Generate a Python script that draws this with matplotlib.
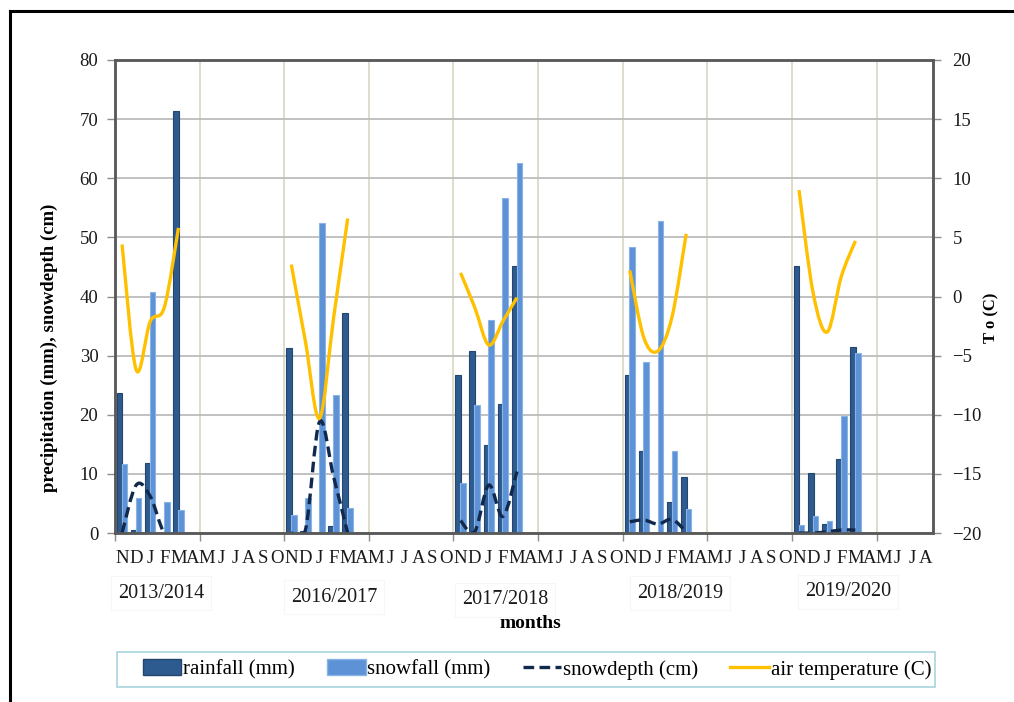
import numpy as np
import matplotlib
matplotlib.use("Agg")
import matplotlib.pyplot as plt
from matplotlib.path import Path
from matplotlib.patches import PathPatch, Rectangle
from matplotlib.lines import Line2D

# ---------------- data ----------------
month_labels = (["N", "D", "J", "F", "M", "A", "M", "J", "J", "A", "S", "O"] * 4
                + ["N", "D", "J", "F", "M", "A", "M", "J", "J", "A"])
seasons = ["2013/2014", "2016/2017", "2017/2018", "2018/2019", "2019/2020"]
season_months = ["N", "D", "J", "F", "M"]
months_per_season = 12

# values per season for N, D, J, F, M
rainfall = [
    [23.6, 0.5, 11.9, 0.0, 71.3],
    [31.3, 0.3, 0.0, 1.1, 37.2],
    [26.7, 30.8, 14.8, 21.9, 45.2],
    [26.7, 13.9, 0.0, 5.2, 9.4],
    [45.2, 10.1, 1.6, 12.6, 31.4],
]
snowfall = [
    [11.6, 5.9, 40.8, 5.2, 3.9],
    [3.0, 6.0, 52.4, 23.3, 4.2],
    [8.4, 21.6, 36.0, 56.6, 62.6],
    [48.3, 29.0, 52.8, 13.8, 4.0],
    [1.4, 2.9, 2.1, 19.8, 30.5],
]
snowdepth = [
    [0.0, 8.1, 6.2, 0.0, 0.0],
    [0.0, 0.5, 18.8, 9.5, 0.0],
    [2.1, 0.2, 8.1, 2.8, 10.4],
    [1.9, 2.2, 1.5, 2.3, 0.2],
    [0.0, 0.0, 0.2, 0.5, 0.5],
]
air_temperature = [
    [4.4, -6.2, -2.1, -0.9, 5.8],
    [2.7, -3.8, -10.3, -1.8, 6.6],
    [2.0, -0.9, -4.1, -2.1, -0.1],
    [2.2, -3.5, -4.6, -1.7, 5.3],
    [9.0, 0.3, -3.0, 1.7, 4.7],
]

# ---------------- style ----------------
SERIF = ["Liberation Serif", "DejaVu Serif"]
plt.rcParams["font.family"] = SERIF
DARK = "#2e5b8f"
DARK_EDGE = "#23466f"
LIGHT = "#5d92d6"
LIGHT_EDGE = "#8ab3e6"
ORANGE = "#FFC000"
NAVY = "#10294d"
SPINE = "#5a5a5a"
TXT = "#1a1a1a"


def smooth_path(xs, ys):
    """Excel-like smoothed line as cubic Bezier path through the data points."""
    pts = np.column_stack([xs, ys]).astype(float)
    n = len(pts)
    verts = [pts[0]]
    codes = [Path.MOVETO]
    for i in range(n - 1):
        p0 = pts[i - 1] if i > 0 else pts[i]
        p1 = pts[i]
        p2 = pts[i + 1]
        p3 = pts[i + 2] if i + 2 < n else pts[i + 1]
        c1 = p1 + (p2 - p0) / 6.0
        c2 = p2 - (p3 - p1) / 6.0
        verts += [c1, c2, p2]
        codes += [Path.CURVE4] * 3
    return Path(np.array(verts), codes)


W, H = 1014, 702
fig = plt.figure(figsize=(W / 100, H / 100), dpi=100)
ax = fig.add_axes([115 / W, 1 - 533 / H, (933 - 115) / W, (533 - 60) / H])
ax2 = ax.twinx()

n_cat = len(month_labels)
ax.set_xlim(-0.5, n_cat - 0.5)
ax.set_ylim(0, 80)
ax2.set_ylim(-20, 20)

bw = 0.4
for s in range(len(seasons)):
    xs = np.arange(len(season_months)) + s * months_per_season
    ax.bar(xs - 0.17, rainfall[s], width=bw, color=DARK, edgecolor=DARK_EDGE,
           linewidth=0.8, zorder=2)
    ax.bar(xs + 0.17, snowfall[s], width=bw, color=LIGHT, edgecolor=LIGHT_EDGE,
           linewidth=0.8, zorder=2.1)
    ax.add_patch(PathPatch(smooth_path(xs, snowdepth[s]), fill=False,
                           edgecolor=NAVY, lw=2.4, linestyle=(0, (3.2, 1.6)),
                           zorder=3, capstyle="butt"))
    ax2.add_patch(PathPatch(smooth_path(xs, air_temperature[s]), fill=False,
                            edgecolor=ORANGE, lw=2.4, zorder=3))

# grid / ticks
ax.set_axisbelow(True)
ax.set_yticks(np.arange(0, 81, 10))
ax.yaxis.grid(True, color="#bcbcbc", lw=1.3)
ax.set_xticks(np.arange(-0.5, n_cat, 6))
ax.set_xticklabels([])
ax.xaxis.grid(True, color="#ddd9c6", lw=1.3)
ax.set_xticks(np.arange(n_cat), minor=True)
ax.set_xticklabels(month_labels, minor=True, fontsize=13.5, color=TXT)
ax.tick_params(axis="x", which="minor", length=0, pad=12)
ax.tick_params(axis="x", which="major", length=6, color="#8c8c8c", width=1)
ax.tick_params(axis="y", length=6, color="#8c8c8c", width=1, labelsize=13.5,
               labelcolor=TXT, pad=6)
ax2.set_yticks(np.arange(-20, 21, 5))
ax2.tick_params(axis="y", length=6, color="#8c8c8c", width=1, labelsize=13.5,
                labelcolor=TXT, pad=8)
for a in (ax, ax2):
    for sp in a.spines.values():
        sp.set_color(SPINE)
        sp.set_linewidth(1.8)

# axis labels
fig.text(49 / W, 1 - 348 / H, "precipitation (mm), snowdepth (cm)", rotation=90,
         ha="center", va="center", fontsize=13.5, fontweight="bold")
fig.text(991 / W, 1 - 318 / H, "T o (C)", rotation=90, ha="center", va="center",
         fontsize=12, fontweight="bold")
fig.text(530 / W, 1 - 623 / H, "months", ha="center", va="center", fontsize=14,
         fontweight="bold", zorder=5)

# season labels
season_label_pos = [(161, 593), (334, 597), (505, 600), (680, 593), (848, 592)]
for name, (px, py) in zip(seasons, season_label_pos):
    fig.text(px / W, 1 - py / H, name, ha="center", va="center", fontsize=14.5,
             color=TXT, zorder=1,
             bbox=dict(boxstyle="square,pad=0.35", fc="none", ec="#f6f6f6", lw=0.8))

# legend
handles = [
    Rectangle((0, 0), 1, 1, fc=DARK, ec=DARK_EDGE),
    Rectangle((0, 0), 1, 1, fc=LIGHT, ec=LIGHT_EDGE),
    Line2D([], [], color=NAVY, lw=2.4, linestyle=(0, (3.2, 1.6))),
    Line2D([], [], color=ORANGE, lw=2.4),
]
labels = ["rainfall (mm)", "snowfall (mm)", "snowdepth (cm)", "air temperature (C)"]
leg = fig.legend(handles, labels, loc="center", bbox_to_anchor=(537 / W, 1 - 669.5 / H),
                 ncol=4, fontsize=15, frameon=False,
                 handlelength=1.85, handleheight=0.8, handletextpad=0.08,
                 columnspacing=1.55, borderpad=0.2, borderaxespad=0)
fig.add_artist(Rectangle((117 / W, 1 - 687 / H), (935 - 117) / W, 35 / H,
                         transform=fig.transFigure, fill=False, ec="#a9d4dd", lw=1.2))

# outer frame (top and left)
fig.add_artist(Line2D([10 / W, 1.0], [1 - 11 / H, 1 - 11 / H], transform=fig.transFigure,
                      color="black", lw=2.2))
fig.add_artist(Line2D([10 / W, 10 / W], [0, 1 - 11 / H], transform=fig.transFigure,
                      color="black", lw=2.2))

fig.savefig("out.png", dpi=100)
